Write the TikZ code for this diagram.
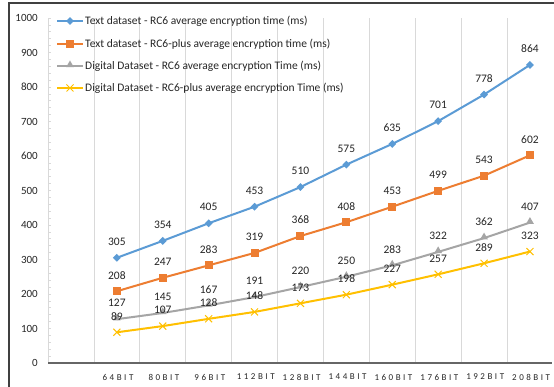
\documentclass[tikz,border=0pt]{standalone}
\usepackage{fontspec}
\setmainfont{Carlito}
\usetikzlibrary{shapes.geometric}
\definecolor{serblue}{HTML}{5B9BD5}
\definecolor{serorange}{HTML}{ED7D31}
\definecolor{sergray}{HTML}{A5A5A5}
\definecolor{seryellow}{HTML}{FFC000}
\definecolor{gridgray}{HTML}{D9D9D9}
\definecolor{labelgray}{HTML}{262626}
\begin{document}
\begin{tikzpicture}[x=1pt,y=1pt,
  serline/.style={line width=2pt, line join=round},
  dmark/.style={diamond, fill=serblue, inner sep=0pt, minimum size=8pt},
  smark/.style={rectangle, fill=serorange, inner sep=0pt, minimum size=8pt},
  tmark/.style={regular polygon, regular polygon sides=3, fill=sergray, inner sep=0pt, minimum size=9pt},
  vallabel/.style={font=\fontsize{11.5}{13}\selectfont, text=labelgray, inner sep=0pt},
  ylabel/.style={font=\fontsize{11}{12}\selectfont, text=labelgray, anchor=east, inner sep=0pt},
  xlabel/.style={font=\fontsize{9}{10}\selectfont\addfontfeature{LetterSpace=28}, text=labelgray, inner sep=0pt},
  legtext/.style={font=\fontsize{11.5}{13}\selectfont, text=labelgray, anchor=west, inner sep=0pt},
]
\useasboundingbox (0,0) rectangle (554,387);
\fill[white] (0,0) rectangle (554,387);
% outer frame
\draw[line width=1.2pt, black!75] (9,0) -- (9,384) -- (554,384);

% vertical gridlines at category boundaries
\foreach \i in {1,...,10}
  \draw[gridgray, line width=0.8pt] ({48+\i*45.9},24) -- ({48+\i*45.9},369);

% value axis with ticks
\draw[gridgray, line width=0.8pt] (48,24) -- (48,369);
\foreach \v in {0,20,...,1000}
  \draw[gridgray, line width=0.6pt] (48,{24+0.345*\v}) -- (51,{24+0.345*\v});
\foreach \v in {0,100,...,1000}
  \node[ylabel] (yl\v) at (38,{24+0.345*\v}) {\v};

% category axis
\draw[black!60, line width=1.3pt] (48,24) -- (552,24);
\foreach \c [count=\i] in {64,80,96,112,128,144,160,176,192,208}
  \node[xlabel] (xl\i) at ({48+(\i+0.5)*45.9+1.2},10) {\c BIT};

% data points
\foreach \v [count=\i] in {305,354,405,453,510,575,635,701,778,864}
  \coordinate (a\i) at ({48+(\i+0.5)*45.9},{24+0.345*\v});
\foreach \v [count=\i] in {208,247,283,319,368,408,453,499,543,602}
  \coordinate (o\i) at ({48+(\i+0.5)*45.9},{24+0.345*\v});
\foreach \v [count=\i] in {127,145,167,191,220,250,283,322,362,407}
  \coordinate (g\i) at ({48+(\i+0.5)*45.9},{24+0.345*\v});
\foreach \v [count=\i] in {89,107,128,148,173,198,227,257,289,323}
  \coordinate (y\i) at ({48+(\i+0.5)*45.9},{24+0.345*\v});

% series lines
\draw[serline, seryellow] (y1) \foreach \i in {2,...,10}{ -- (y\i)};
\draw[serline, sergray] (g1) \foreach \i in {2,...,10}{ -- (g\i)};
\draw[serline, serorange] (o1) \foreach \i in {2,...,10}{ -- (o\i)};
\draw[serline, serblue] (a1) \foreach \i in {2,...,10}{ -- (a\i)};

% markers
\foreach \i in {1,...,10}{
  \draw[seryellow, line width=1pt] ([shift={(-3.5,-3.5)}]y\i) -- ([shift={(3.5,3.5)}]y\i)
                                    ([shift={(-3.5,3.5)}]y\i) -- ([shift={(3.5,-3.5)}]y\i);
  \node[tmark] at ([yshift=1pt]g\i) {};
  \node[smark] at (o\i) {};
  \node[dmark] at (a\i) {};
}

% value labels
\foreach \v [count=\i] in {305,354,405,453,510,575,635,701,778,864}
  \node[vallabel] at ([yshift=16pt]a\i) {\v};
\foreach \v [count=\i] in {208,247,283,319,368,408,453,499,543,602}
  \node[vallabel] at ([yshift=16pt]o\i) {\v};
\foreach \v [count=\i] in {127,145,167,191,220,250,283,322,362,407}
  \node[vallabel] at ([yshift=16pt]g\i) {\v};
\foreach \v [count=\i] in {89,107,128,148,173,198,227,257,289,323}
  \node[vallabel] at ([yshift=16pt]y\i) {\v};

% legend
\coordinate (la) at (70,366);
\coordinate (lo) at (70,343);
\coordinate (lg) at (70,321);
\coordinate (ly) at (70,299);
\draw[serline, serblue] ([xshift=-13pt]la) -- ([xshift=13pt]la);
\node[dmark] at (la) {};
\draw[serline, serorange] ([xshift=-13pt]lo) -- ([xshift=13pt]lo);
\node[smark] at (lo) {};
\draw[serline, sergray] ([xshift=-13pt]lg) -- ([xshift=13pt]lg);
\node[tmark] at ([yshift=1pt]lg) {};
\draw[serline, seryellow] ([xshift=-13pt]ly) -- ([xshift=13pt]ly);
\draw[seryellow, line width=1pt] ([shift={(-3.5,-3.5)}]ly) -- ([shift={(3.5,3.5)}]ly)
                                  ([shift={(-3.5,3.5)}]ly) -- ([shift={(3.5,-3.5)}]ly);
\node[legtext] (lta) at (85,366) {Text dataset - RC6 average encryption time (ms)};
\node[legtext] (lto) at (85,343) {Text dataset - RC6-plus average encryption time (ms)};
\node[legtext] (ltg) at (85,321) {Digital Dataset - RC6 average encryption Time (ms)};
\node[legtext] (lty) at (85,299) {Digital Dataset - RC6-plus average encryption Time (ms)};
\end{tikzpicture}
\end{document}
